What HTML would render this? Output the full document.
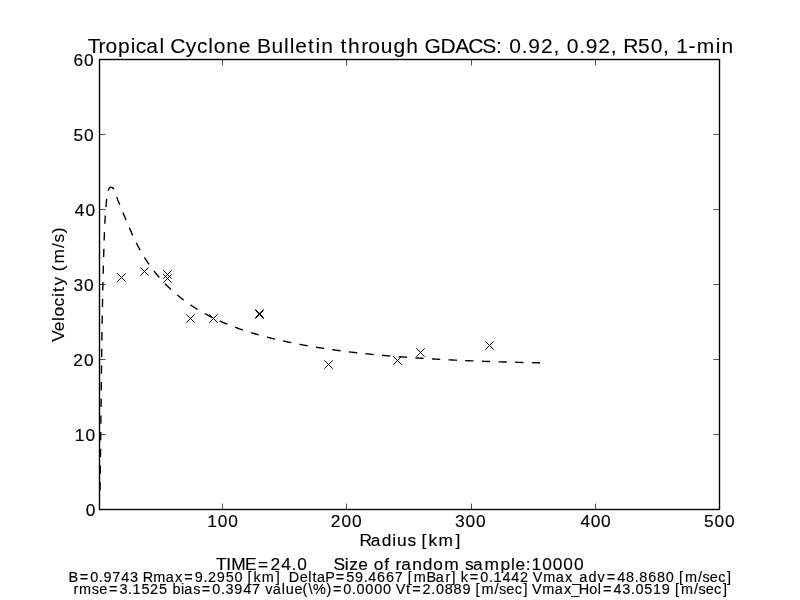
<!DOCTYPE html>
<html><head><meta charset="utf-8"><title>Tropical Cyclone Bulletin through GDACS</title>
<style>
html,body{margin:0;padding:0;background:#fff;width:800px;height:600px;overflow:hidden}
svg{display:block;will-change:transform}
text{font-family:"Liberation Sans",sans-serif;fill:#000;white-space:pre;stroke:#000;stroke-width:0.15px}
.ttl{stroke-width:0.08px}
</style></head><body>
<svg width="800" height="600" viewBox="0 0 800 600">
<rect width="800" height="600" fill="#fff"/>
<path d="M99.97 490.41 L99.98 489.61 L100.00 488.80 L100.01 487.99 L100.03 487.18 L100.04 486.37 L100.05 485.56 L100.06 484.76 L100.08 483.95 L100.09 483.14 L100.10 482.33 L100.12 481.52 L100.13 480.71 L100.14 479.91 L100.15 479.10 L100.17 478.29 L100.18 477.48 L100.19 476.67 L100.20 475.86 L100.22 475.05 L100.23 474.25 L100.24 473.44 L100.25 472.63 L100.26 471.82 L100.28 471.01 L100.29 470.20 L100.30 469.40 L100.31 468.59 L100.32 467.78 L100.33 466.97 L100.34 466.16 L100.36 465.35 L100.37 464.55 L100.38 463.74 L100.39 462.93 L100.40 462.12 L100.41 461.31 L100.42 460.50 L100.43 459.69 L100.44 458.89 L100.45 458.08 L100.47 457.27 L100.48 456.46 L100.49 455.65 L100.50 454.84 L100.51 454.04 L100.52 453.23 L100.53 452.42 L100.54 451.61 L100.55 450.80 L100.56 449.99 L100.57 449.18 L100.58 448.38 L100.59 447.57 L100.60 446.76 L100.61 445.95 L100.62 445.14 L100.63 444.33 L100.64 443.52 L100.65 442.72 L100.66 441.91 L100.67 441.10 L100.68 440.29 L100.69 439.48 L100.70 438.67 L100.71 437.87 L100.72 437.06 L100.73 436.25 L100.74 435.44 L100.74 434.63 L100.75 433.82 L100.76 433.01 L100.77 432.21 L100.78 431.40 L100.79 430.59 L100.80 429.78 L100.81 428.97 L100.82 428.16 L100.83 427.35 L100.84 426.55 L100.85 425.74 L100.86 424.93 L100.87 424.12 L100.87 423.31 L100.88 422.50 L100.89 421.69 L100.90 420.89 L100.91 420.08 L100.92 419.27 L100.93 418.46 L100.94 417.65 L100.95 416.84 L100.96 416.04 L100.96 415.23 L100.97 414.42 L100.98 413.61 L100.99 412.80 L101.00 411.99 L101.01 411.18 L101.02 410.38 L101.03 409.57 L101.04 408.76 L101.04 407.95 L101.05 407.14 L101.06 406.33 L101.07 405.52 L101.08 404.72 L101.09 403.91 L101.10 403.10 L101.11 402.29 L101.12 401.48 L101.12 400.67 L101.13 399.86 L101.14 399.06 L101.15 398.25 L101.16 397.44 L101.17 396.63 L101.18 395.82 L101.19 395.01 L101.20 394.20 L101.20 393.40 L101.21 392.59 L101.22 391.78 L101.23 390.97 L101.24 390.16 L101.25 389.35 L101.26 388.54 L101.27 387.74 L101.28 386.93 L101.29 386.12 L101.30 385.31 L101.30 384.50 L101.31 383.69 L101.32 382.88 L101.33 382.08 L101.34 381.27 L101.35 380.46 L101.36 379.65 L101.37 378.84 L101.38 378.03 L101.39 377.22 L101.40 376.42 L101.41 375.61 L101.42 374.80 L101.43 373.99 L101.44 373.18 L101.45 372.37 L101.46 371.57 L101.46 370.76 L101.47 369.95 L101.48 369.14 L101.49 368.33 L101.50 367.52 L101.51 366.71 L101.52 365.91 L101.53 365.10 L101.54 364.29 L101.55 363.48 L101.56 362.67 L101.57 361.86 L101.58 361.05 L101.59 360.25 L101.61 359.44 L101.62 358.63 L101.63 357.82 L101.64 357.01 L101.65 356.20 L101.66 355.39 L101.67 354.59 L101.68 353.78 L101.69 352.97 L101.70 352.16 L101.71 351.35 L101.72 350.54 L101.73 349.73 L101.74 348.93 L101.76 348.12 L101.77 347.31 L101.78 346.50 L101.79 345.69 L101.80 344.88 L101.81 344.08 L101.82 343.27 L101.84 342.46 L101.85 341.65 L101.86 340.84 L101.87 340.03 L101.88 339.22 L101.89 338.42 L101.91 337.61 L101.92 336.80 L101.93 335.99 L101.94 335.18 L101.96 334.37 L101.97 333.56 L101.98 332.76 L101.99 331.95 L102.01 331.14 L102.02 330.33 L102.03 329.52 L102.04 328.71 L102.06 327.91 L102.07 327.10 L102.08 326.29 L102.10 325.48 L102.11 324.67 L102.12 323.86 L102.14 323.05 L102.15 322.25 L102.16 321.44 L102.18 320.63 L102.19 319.82 L102.21 319.01 L102.22 318.20 L102.23 317.40 L102.25 316.59 L102.26 315.78 L102.28 314.97 L102.29 314.16 L102.31 313.35 L102.32 312.55 L102.34 311.74 L102.35 310.93 L102.37 310.12 L102.38 309.31 L102.40 308.50 L102.41 307.69 L102.43 306.89 L102.44 306.08 L102.46 305.27 L102.47 304.46 L102.49 303.65 L102.51 302.84 L102.52 302.04 L102.54 301.23 L102.56 300.42 L102.57 299.61 L102.59 298.80 L102.61 297.99 L102.62 297.19 L102.64 296.38 L102.66 295.57 L102.67 294.76 L102.69 293.95 L102.71 293.14 L102.73 292.34 L102.74 291.53 L102.76 290.72 L102.78 289.91 L102.80 289.10 L102.82 288.29 L102.83 287.49 L102.85 286.68 L102.87 285.87 L102.89 285.06 L102.91 284.25 L102.93 283.44 L102.95 282.64 L102.97 281.83 L102.99 281.02 L103.01 280.21 L103.03 279.40 L103.05 278.59 L103.06 277.79 L103.09 276.98 L103.11 276.17 L103.13 275.36 L103.15 274.55 L103.17 273.74 L103.19 272.94 L103.21 272.13 L103.23 271.32 L103.25 270.51 L103.27 269.70 L103.29 268.89 L103.32 268.09 L103.34 267.28 L103.36 266.47 L103.38 265.66 L103.40 264.85 L103.43 264.05 L103.45 263.24 L103.47 262.43 L103.50 261.62 L103.52 260.81 L103.54 260.00 L103.57 259.20 L103.59 258.39 L103.61 257.58 L103.64 256.77 L103.66 255.96 L103.69 255.16 L103.71 254.35 L103.73 253.54 L103.76 252.73 L103.78 251.92 L103.81 251.11 L103.83 250.31 L103.86 249.50 L103.89 248.69 L103.91 247.88 L103.94 247.07 L103.96 246.27 L103.99 245.46 L104.02 244.65 L104.04 243.84 L104.07 243.03 L104.10 242.22 L104.12 241.42 L104.15 240.61 L104.18 239.80 L104.21 238.99 L104.24 238.18 L104.26 237.38 L104.29 236.57 L104.32 235.76 L104.35 234.95 L104.38 234.14 L104.41 233.34 L104.44 232.53 L104.47 231.72 L104.51 230.91 L104.54 230.10 L104.57 229.30 L104.61 228.49 L104.64 227.68 L104.68 226.87 L104.72 226.07 L104.75 225.26 L104.79 224.45 L104.83 223.64 L104.87 222.84 L104.91 222.03 L104.96 221.22 L105.00 220.41 L105.05 219.61 L105.09 218.80 L105.14 217.99 L105.19 217.18 L105.24 216.38 L105.29 215.57 L105.34 214.76 L105.40 213.96 L105.45 213.15 L105.51 212.34 L105.57 211.54 L105.63 210.73 L105.69 209.92 L105.75 209.12 L105.82 208.31 L105.88 207.50 L105.95 206.70 L106.02 205.89 L106.09 205.08 L106.17 204.28 L106.24 203.47 L106.32 202.67 L106.40 201.86 L106.49 201.06 L106.57 200.26 L106.66 199.45 L106.76 198.65 L106.86 197.86 L106.96 197.06 L107.06 196.27 L107.17 195.48 L107.29 194.68 L107.42 193.88 L107.58 193.05 L107.76 192.19 L107.99 191.30 L108.26 190.41 L108.58 189.57 L108.94 188.80 L109.37 188.15 L109.86 187.66 L110.41 187.35 L111.03 187.27 L111.70 187.40 L112.37 187.70 L113.02 188.13 L113.60 188.66 L114.11 189.26 L114.56 189.92 L114.94 190.63 L115.28 191.39 L115.58 192.19 L115.84 193.01 L116.08 193.86 L116.30 194.71 L116.51 195.57 L116.72 196.42 L116.94 197.25 L117.18 198.06 L117.43 198.86 L117.69 199.63 L117.97 200.39 L118.25 201.14 L118.55 201.88 L118.84 202.62 L119.14 203.35 L119.45 204.07 L119.75 204.81 L120.06 205.54 L120.37 206.27 L120.67 207.01 L120.98 207.75 L121.29 208.49 L121.60 209.23 L121.90 209.97 L122.21 210.72 L122.52 211.46 L122.83 212.21 L123.14 212.96 L123.45 213.71 L123.76 214.46 L124.07 215.21 L124.39 215.96 L124.70 216.71 L125.01 217.46 L125.32 218.21 L125.63 218.96 L125.95 219.71 L126.26 220.46 L126.57 221.21 L126.89 221.96 L127.20 222.71 L127.52 223.46 L127.83 224.20 L128.15 224.95 L128.47 225.70 L128.78 226.44 L129.10 227.19 L129.42 227.93 L129.75 228.68 L130.07 229.42 L130.39 230.16 L130.72 230.90 L131.04 231.64 L131.37 232.38 L131.70 233.12 L132.03 233.86 L132.37 234.60 L132.70 235.33 L133.04 236.07 L133.38 236.80 L133.72 237.53 L134.07 238.26 L134.41 238.99 L134.76 239.72 L135.11 240.45 L135.47 241.17 L135.82 241.90 L136.18 242.62 L136.54 243.34 L136.91 244.06 L137.27 244.78 L137.64 245.50 L138.02 246.21 L138.39 246.92 L138.77 247.64 L139.16 248.35 L139.54 249.05 L139.93 249.76 L140.33 250.47 L140.72 251.17 L141.13 251.87 L141.53 252.57 L141.94 253.27 L142.35 253.96 L142.76 254.66 L143.18 255.35 L143.60 256.04 L144.03 256.72 L144.46 257.41 L144.89 258.09 L145.32 258.78 L145.76 259.45 L146.21 260.13 L146.65 260.81 L147.10 261.48 L147.55 262.15 L148.01 262.82 L148.47 263.48 L148.93 264.15 L149.39 264.81 L149.86 265.47 L150.34 266.13 L150.81 266.78 L151.29 267.43 L151.77 268.08 L152.26 268.73 L152.74 269.38 L153.24 270.02 L153.73 270.66 L154.23 271.30 L154.73 271.93 L155.23 272.57 L155.74 273.20 L156.25 273.82 L156.77 274.45 L157.28 275.07 L157.80 275.69 L158.33 276.31 L158.85 276.92 L159.38 277.53 L159.91 278.14 L160.45 278.75 L160.99 279.35 L161.53 279.95 L162.07 280.55 L162.62 281.15 L163.17 281.74 L163.72 282.33 L164.28 282.92 L164.84 283.50 L165.40 284.08 L165.97 284.66 L166.53 285.23 L167.10 285.80 L167.68 286.37 L168.25 286.94 L168.83 287.50 L169.42 288.06 L170.00 288.62 L170.59 289.17 L171.18 289.72 L171.77 290.27 L172.37 290.81 L172.97 291.35 L173.57 291.89 L174.18 292.42 L174.78 292.95 L175.39 293.48 L176.01 294.00 L176.62 294.52 L177.24 295.04 L177.86 295.55 L178.48 296.06 L179.11 296.57 L179.74 297.07 L180.37 297.57 L181.00 298.07 L181.64 298.57 L182.28 299.06 L182.92 299.54 L183.57 300.03 L184.21 300.51 L184.86 300.99 L185.51 301.46 L186.17 301.93 L186.82 302.40 L187.48 302.86 L188.14 303.32 L188.80 303.78 L189.47 304.24 L190.13 304.69 L190.80 305.14 L191.48 305.58 L192.15 306.03 L192.83 306.47 L193.50 306.90 L194.18 307.34 L194.87 307.77 L195.55 308.19 L196.24 308.62 L196.92 309.04 L197.61 309.46 L198.31 309.87 L199.00 310.29 L199.70 310.70 L200.39 311.10 L201.09 311.51 L201.79 311.91 L202.50 312.31 L203.20 312.70 L203.91 313.09 L204.62 313.48 L205.33 313.87 L206.04 314.25 L206.75 314.63 L207.47 315.01 L208.18 315.39 L208.90 315.76 L209.62 316.13 L210.34 316.50 L211.07 316.86 L211.79 317.22 L212.52 317.58 L213.24 317.94 L213.97 318.29 L214.70 318.64 L215.43 318.99 L216.17 319.33 L216.90 319.68 L217.64 320.02 L218.37 320.35 L219.11 320.69 L219.85 321.02 L220.59 321.35 L221.33 321.68 L222.07 322.00 L222.82 322.33 L223.56 322.65 L224.31 322.96 L225.05 323.28 L225.80 323.59 L226.55 323.90 L227.30 324.21 L228.05 324.51 L228.80 324.81 L229.56 325.11 L230.31 325.41 L231.06 325.71 L231.82 326.00 L232.58 326.29 L233.33 326.58 L234.09 326.87 L234.85 327.15 L235.61 327.43 L236.37 327.71 L237.13 327.99 L237.89 328.26 L238.65 328.53 L239.41 328.80 L240.18 329.07 L240.94 329.34 L241.70 329.60 L242.47 329.86 L243.24 330.12 L244.00 330.38 L244.77 330.63 L245.54 330.89 L246.31 331.14 L247.07 331.39 L247.84 331.63 L248.61 331.88 L249.38 332.12 L250.16 332.36 L250.93 332.60 L251.70 332.84 L252.47 333.07 L253.25 333.31 L254.02 333.54 L254.80 333.77 L255.57 334.00 L256.35 334.22 L257.12 334.45 L257.90 334.67 L258.68 334.89 L259.45 335.11 L260.23 335.32 L261.01 335.54 L261.79 335.75 L262.57 335.96 L263.35 336.17 L264.13 336.38 L264.91 336.59 L265.69 336.79 L266.47 337.00 L267.26 337.20 L268.04 337.40 L268.82 337.60 L269.61 337.80 L270.39 337.99 L271.17 338.19 L271.96 338.38 L272.74 338.57 L273.53 338.76 L274.31 338.95 L275.10 339.14 L275.89 339.32 L276.67 339.51 L277.46 339.69 L278.25 339.87 L279.04 340.05 L279.82 340.23 L280.61 340.41 L281.40 340.58 L282.19 340.76 L282.98 340.93 L283.77 341.10 L284.56 341.27 L285.35 341.44 L286.14 341.61 L286.93 341.78 L287.72 341.95 L288.51 342.11 L289.30 342.28 L290.09 342.44 L290.88 342.60 L291.68 342.76 L292.47 342.92 L293.26 343.08 L294.05 343.24 L294.84 343.40 L295.64 343.55 L296.43 343.71 L297.22 343.86 L298.02 344.01 L298.81 344.17 L299.60 344.32 L300.40 344.47 L301.19 344.62 L301.99 344.76 L302.78 344.91 L303.58 345.06 L304.37 345.20 L305.16 345.34 L305.96 345.49 L306.76 345.63 L307.55 345.77 L308.35 345.91 L309.14 346.05 L309.94 346.19 L310.73 346.32 L311.53 346.46 L312.33 346.59 L313.12 346.73 L313.92 346.86 L314.72 346.99 L315.52 347.13 L316.31 347.26 L317.11 347.39 L317.91 347.51 L318.71 347.64 L319.50 347.77 L320.30 347.89 L321.10 348.02 L321.90 348.14 L322.70 348.27 L323.50 348.39 L324.29 348.51 L325.09 348.63 L325.89 348.75 L326.69 348.87 L327.49 348.99 L328.29 349.11 L329.09 349.22 L329.89 349.34 L330.69 349.45 L331.49 349.57 L332.29 349.68 L333.09 349.79 L333.89 349.91 L334.69 350.02 L335.49 350.13 L336.29 350.23 L337.09 350.34 L337.90 350.45 L338.70 350.56 L339.50 350.66 L340.30 350.77 L341.10 350.87 L341.90 350.98 L342.70 351.08 L343.51 351.18 L344.31 351.28 L345.11 351.38 L345.91 351.48 L346.72 351.58 L347.52 351.68 L348.32 351.78 L349.12 351.88 L349.93 351.97 L350.73 352.07 L351.53 352.16 L352.34 352.26 L353.14 352.35 L353.94 352.44 L354.75 352.54 L355.55 352.63 L356.35 352.72 L357.16 352.81 L357.96 352.90 L358.76 352.99 L359.57 353.08 L360.37 353.16 L361.18 353.25 L361.98 353.34 L362.78 353.42 L363.59 353.51 L364.39 353.59 L365.20 353.67 L366.00 353.76 L366.81 353.84 L367.61 353.92 L368.42 354.00 L369.22 354.08 L370.03 354.16 L370.83 354.24 L371.64 354.32 L372.44 354.40 L373.25 354.48 L374.05 354.56 L374.86 354.63 L375.66 354.71 L376.47 354.78 L377.27 354.86 L378.08 354.93 L378.89 355.01 L379.69 355.08 L380.50 355.15 L381.30 355.22 L382.11 355.30 L382.92 355.37 L383.72 355.44 L384.53 355.51 L385.33 355.58 L386.14 355.65 L386.95 355.71 L387.75 355.78 L388.56 355.85 L389.36 355.92 L390.17 355.98 L390.98 356.05 L391.78 356.12 L392.59 356.18 L393.40 356.25 L394.20 356.31 L395.01 356.37 L395.82 356.44 L396.62 356.50 L397.43 356.56 L398.24 356.63 L399.04 356.69 L399.85 356.75 L400.66 356.81 L401.46 356.87 L402.27 356.93 L403.08 356.99 L403.88 357.05 L404.69 357.11 L405.50 357.17 L406.30 357.22 L407.11 357.28 L407.92 357.34 L408.72 357.40 L409.53 357.45 L410.34 357.51 L411.14 357.56 L411.95 357.62 L412.76 357.68 L413.56 357.73 L414.37 357.78 L415.18 357.84 L415.99 357.89 L416.79 357.95 L417.60 358.00 L418.41 358.05 L419.21 358.10 L420.02 358.16 L420.83 358.21 L421.63 358.26 L422.44 358.31 L423.25 358.36 L424.05 358.41 L424.86 358.46 L425.67 358.51 L426.47 358.56 L427.28 358.61 L428.09 358.66 L428.89 358.71 L429.70 358.76 L430.51 358.81 L431.31 358.85 L432.12 358.90 L432.93 358.95 L433.74 359.00 L434.54 359.04 L435.35 359.09 L436.16 359.13 L436.96 359.18 L437.77 359.23 L438.58 359.27 L439.38 359.32 L440.19 359.36 L441.00 359.40 L441.80 359.45 L442.61 359.49 L443.42 359.53 L444.22 359.58 L445.03 359.62 L445.84 359.66 L446.64 359.70 L447.45 359.75 L448.26 359.79 L449.06 359.83 L449.87 359.87 L450.68 359.91 L451.48 359.95 L452.29 359.99 L453.10 360.03 L453.90 360.07 L454.71 360.11 L455.52 360.15 L456.33 360.19 L457.13 360.23 L457.94 360.26 L458.75 360.30 L459.55 360.34 L460.36 360.38 L461.17 360.41 L461.97 360.45 L462.78 360.49 L463.59 360.52 L464.39 360.56 L465.20 360.59 L466.01 360.63 L466.81 360.66 L467.62 360.70 L468.43 360.73 L469.24 360.77 L470.04 360.80 L470.85 360.83 L471.66 360.87 L472.46 360.90 L473.27 360.93 L474.08 360.97 L474.88 361.00 L475.69 361.03 L476.50 361.06 L477.31 361.09 L478.11 361.12 L478.92 361.15 L479.73 361.19 L480.53 361.22 L481.34 361.25 L482.15 361.28 L482.95 361.31 L483.76 361.33 L484.57 361.36 L485.38 361.39 L486.18 361.42 L486.99 361.45 L487.80 361.48 L488.60 361.51 L489.41 361.53 L490.22 361.56 L491.03 361.59 L491.83 361.61 L492.64 361.64 L493.45 361.67 L494.26 361.69 L495.06 361.72 L495.87 361.75 L496.68 361.77 L497.48 361.80 L498.29 361.82 L499.10 361.85 L499.91 361.87 L500.71 361.89 L501.52 361.92 L502.33 361.94 L503.14 361.96 L503.94 361.99 L504.75 362.01 L505.56 362.03 L506.37 362.06 L507.17 362.08 L507.98 362.10 L508.79 362.12 L509.60 362.14 L510.40 362.17 L511.21 362.19 L512.02 362.21 L512.83 362.23 L513.63 362.25 L514.44 362.27 L515.25 362.29 L516.06 362.31 L516.87 362.33 L517.67 362.35 L518.48 362.37 L519.29 362.38 L520.10 362.40 L520.90 362.42 L521.71 362.44 L522.52 362.46 L523.33 362.48 L524.14 362.49 L524.94 362.51 L525.75 362.53 L526.56 362.54 L527.37 362.56 L528.18 362.58 L528.98 362.59 L529.79 362.61 L530.60 362.63 L531.41 362.64 L532.22 362.66 L533.02 362.67 L533.83 362.69 L534.64 362.70 L535.45 362.72 L536.26 362.73 L537.06 362.75 L537.87 362.76 L538.68 362.77 L539.49 362.79 L540.03 362.80" fill="none" stroke="#000" stroke-width="1.389" stroke-dasharray="8.333 8.333" stroke-linejoin="round"/>
<path d="M117.333 273.333L125.667 281.667M117.333 281.667L125.667 273.333M140.333 267.333L148.667 275.667M140.333 275.667L148.667 267.333M163.333 270.333L171.667 278.667M163.333 278.667L171.667 270.333M163.333 274.333L171.667 282.667M163.333 282.667L171.667 274.333M186.333 314.333L194.667 322.667M186.333 322.667L194.667 314.333M209.333 314.333L217.667 322.667M209.333 322.667L217.667 314.333M255.333 309.333L263.667 317.667M255.333 317.667L263.667 309.333M255.333 310.333L263.667 318.667M255.333 318.667L263.667 310.333M324.333 360.333L332.667 368.667M324.333 368.667L332.667 360.333M393.333 356.333L401.667 364.667M393.333 364.667L401.667 356.333M416.333 348.333L424.667 356.667M416.333 356.667L424.667 348.333M485.333 341.333L493.667 349.667M485.333 349.667L493.667 341.333" stroke="#000" stroke-width="1.0" fill="none"/>
<rect x="99.5" y="59.5" width="620" height="450" fill="none" stroke="#000" stroke-width="1.389"/>
<path d="M222.5 509.5V503.500M222.5 59.5V65.500M346.5 509.5V503.500M346.5 59.5V65.500M471.5 509.5V503.500M471.5 59.5V65.500M595.5 509.5V503.500M595.5 59.5V65.500M99.5 134.5H105.500M719.5 134.5H713.500M99.5 209.5H105.500M719.5 209.5H713.500M99.5 284.5H105.500M719.5 284.5H713.500M99.5 359.5H105.500M719.5 359.5H713.500M99.5 434.5H105.500M719.5 434.5H713.500" stroke="#000" stroke-width="0.694" fill="none"/>
<text x="87.78 98.38 105.47 118.09 130.63 135.77 146.32 159.51 164.90 170.31 185.69 196.91 208.36 213.78 226.31 238.83 251.07 257.02 271.41 284.10 289.68 295.17 308.10 315.46 321.13 333.55 340.62 348.05 361.25 368.34 380.78 393.43 406.28 418.74 424.44 440.55 455.33 468.15 482.32 496.04 502.60 509.25 521.73 528.32 540.88 553.43 560.01 566.65 579.14 585.73 598.29 610.84 617.42 623.23 637.92 650.76 663.05 669.63 676.16 688.62 696.81 715.73 721.40" y="52.90" font-size="21.00" class="ttl">Tropical Cyclone Bulletin through GDACS: 0.92, 0.92, R50, 1-min</text>
<text x="73.48 84.08" y="65.70" font-size="17.33">60</text>
<text x="73.41 84.08" y="140.70" font-size="17.33">50</text>
<text x="74.78 85.38" y="215.70" font-size="17.33">40</text>
<text x="73.50 84.08" y="290.70" font-size="17.33">30</text>
<text x="73.26 84.08" y="365.70" font-size="17.33">20</text>
<text x="74.69 85.38" y="440.70" font-size="17.33">10</text>
<text x="85.73" y="515.70" font-size="17.33">0</text>
<text x="207.34 217.82 228.21" y="527.00" font-size="17.33">100</text>
<text x="330.87 341.52 351.95" y="527.00" font-size="17.33">200</text>
<text x="455.10 465.60 476.11" y="527.00" font-size="17.33">300</text>
<text x="580.43 590.72 601.01" y="527.00" font-size="17.33">400</text>
<text x="704.00 714.59 725.11" y="527.00" font-size="17.33">500</text>
<text x="359.59 370.73 381.71 392.37 397.07 407.40 416.24 421.53 428.52 438.56 455.41" y="545.75" font-size="17.33">Radius [km]</text>
<text x="215.91 226.34 231.19 245.04 258.08 270.39 281.23 291.60 297.15 307.52 312.83 318.13 323.43 328.74 333.40 344.79 349.15 358.13 368.29 373.64 384.30 389.67 395.60 401.26 412.32 422.77 433.27 444.14 459.69 464.88 473.11 484.62 500.50 510.90 515.49 525.82 531.43 542.13 552.75 563.36 573.98" y="569.70" font-size="17.33">TIME=24.0     Size of random sample:10000</text>
<text x="68.56 79.77 90.21 98.84 103.42 112.28 121.14 130.00 138.63 142.68 153.28 165.75 175.01 184.37 194.76 203.44 207.88 216.86 225.69 234.58 243.22 247.61 253.38 261.69 275.68 280.06 284.48 288.85 299.68 308.26 312.48 316.97 325.37 335.75 346.13 354.98 363.66 368.28 377.12 385.96 394.77 403.44 407.82 413.86 426.53 435.86 445.38 451.61 455.99 460.73 469.85 480.29 488.92 493.47 502.38 511.22 519.88 528.71 532.85 543.21 555.68 564.94 572.18 579.36 588.47 597.48 606.81 617.24 626.08 634.72 639.34 648.18 657.02 665.86 674.50 678.88 684.92 698.00 702.45 709.87 718.18 727.01" y="581.90" font-size="14.44">B=0.9743 Rmax=9.2950 [km]  DeltaP=59.4667 [mBar] k=0.1442 Vmax_adv=48.8680 [m/sec]</text>
<text x="73.41 78.92 91.74 99.14 108.99 119.42 128.02 132.55 141.39 150.08 159.03 167.71 172.39 181.04 184.28 193.16 201.87 212.28 220.90 225.53 234.28 243.14 251.94 260.59 265.29 272.71 281.82 285.69 294.41 302.59 308.40 312.90 326.57 332.91 343.32 351.94 356.54 365.36 374.18 383.00 391.62 395.75 405.99 412.34 422.57 431.37 435.98 444.80 453.62 462.39 471.06 475.43 481.45 494.51 498.95 506.34 514.63 523.45 527.82 531.95 542.29 554.73 563.97 571.19 578.64 589.29 597.87 602.99 613.40 622.24 630.84 635.44 644.21 653.01 661.86 670.52 674.90 680.91 693.97 698.41 705.81 714.10 722.92" y="593.70" font-size="14.44">rmse=3.1525 bias=0.3947 value(\%)=0.0000 Vt=2.0889 [m/sec] Vmax_Hol=43.0519 [m/sec]</text>
<text x="-341.72 -331.20 -320.91 -316.40 -306.44 -296.94 -291.90 -285.60 -276.10 -271.13 -263.62 -247.95 -242.62 -233.26" y="63.90" font-size="17.33" transform="rotate(-90)">Velocity (m/s)</text>
</svg>
</body></html>
